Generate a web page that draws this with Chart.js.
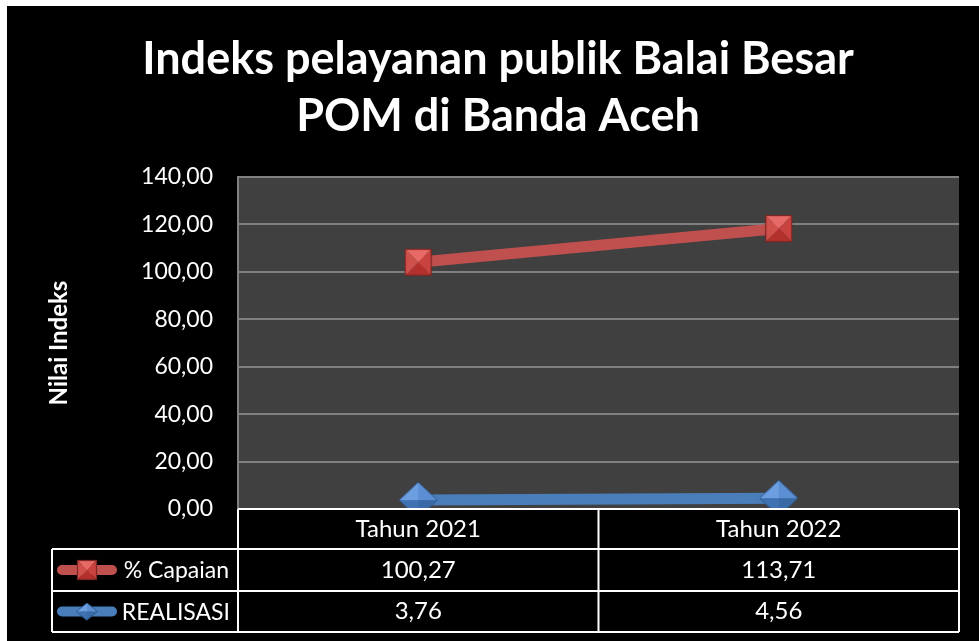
<!DOCTYPE html>
<html>
<head>
<meta charset="utf-8">
<script src="https://cdn.jsdelivr.net/npm/chart.js@4/dist/chart.umd.min.js"></script>
<style>
  html, body { margin: 0; padding: 0; background: #ffffff; }
  #wrap { position: absolute; left: 7px; top: 6px; width: 972px; height: 635px; background: #000; }
  canvas { display: block; }
</style>
</head>
<body>
<div id="wrap"><canvas id="c" width="972" height="635"></canvas></div>
<script>
const titleLines = ['Indeks pelayanan publik Balai Besar', 'POM di Banda Aceh'];
const categories = ['Tahun 2021', 'Tahun 2022'];
const capaianLabel = '% Capaian';
const capaian = [100.27, 113.71];
const realisasiLabel = 'REALISASI';
const realisasi = [3.76, 4.56];
const yAxisTitle = 'Nilai Indeks';
const yMin = 0, yMax = 140, yStep = 20;

const RED = '#C0504D';
const BLUE = '#4A7EBB';
const FONT = 'Lato, "Open Sans", sans-serif';

function fmt(v) { return v.toFixed(2).replace('.', ','); }

function drawSquare(ctx, cx, cy, s) {
  const h = s / 2;
  const x0 = cx - h, y0 = cy - h, x1 = cx + h, y1 = cy + h;
  const tri = (ax, ay, bx, by, col) => {
    ctx.beginPath(); ctx.moveTo(ax, ay); ctx.lineTo(bx, by); ctx.lineTo(cx, cy); ctx.closePath();
    ctx.fillStyle = col; ctx.fill();
  };
  tri(x0, y0, x1, y0, '#e86a67');
  tri(x1, y0, x1, y1, '#c8433f');
  tri(x1, y1, x0, y1, '#b3302d');
  tri(x0, y1, x0, y0, '#d0504c');
  ctx.lineWidth = 1.2; ctx.strokeStyle = '#7e2624';
  ctx.strokeRect(x0 + 0.5, y0 + 0.5, s - 1, s - 1);
}
function drawDiamond(ctx, cx, cy, w, hgt) {
  const a = w / 2, b = hgt / 2;
  const tri = (ax, ay, bx, by, col) => {
    ctx.beginPath(); ctx.moveTo(ax, ay); ctx.lineTo(bx, by); ctx.lineTo(cx, cy); ctx.closePath();
    ctx.fillStyle = col; ctx.fill();
  };
  tri(cx - a, cy, cx, cy - b, '#6c9ee0');
  tri(cx, cy - b, cx + a, cy, '#5b8ed3');
  tri(cx + a, cy, cx, cy + b, '#3a6aa6');
  tri(cx, cy + b, cx - a, cy, '#3f72b2');
  ctx.beginPath(); ctx.moveTo(cx - a, cy); ctx.lineTo(cx, cy - b); ctx.lineTo(cx + a, cy); ctx.lineTo(cx, cy + b); ctx.closePath();
  ctx.lineWidth = 1; ctx.strokeStyle = '#2f5a8e'; ctx.stroke();
}
function makeImg(w, h, fn) {
  const c = document.createElement('canvas');
  c.width = w; c.height = h;
  fn(c.getContext('2d'), w, h);
  return c;
}
const squareImg = makeImg(29, 29, (ctx) => drawSquare(ctx, 14.5, 14.5, 27));
const diamondImg = makeImg(40, 38, (ctx) => drawDiamond(ctx, 20, 19, 38, 36));

const bgPlugin = {
  id: 'bg',
  beforeDraw(chart) {
    const { ctx, chartArea: a } = chart;
    ctx.save();
    ctx.fillStyle = '#000';
    ctx.fillRect(0, 0, chart.width, chart.height);
    ctx.fillStyle = '#404040';
    ctx.fillRect(a.left, a.top, a.right - a.left, a.bottom - a.top);
    ctx.restore();
  },
  afterDraw(chart) {
    const { ctx, chartArea: a } = chart;
    const xs = chart.scales.x;
    ctx.save();
    // title
    ctx.fillStyle = '#fff';
    ctx.font = 'bold 45px ' + FONT;
    ctx.textAlign = 'center';
    ctx.textBaseline = 'alphabetic';
    ctx.fillText(titleLines[0], 491, 68);
    ctx.fillText(titleLines[1], 491, 125);

    // data table
    const colEdges = [a.left];
    for (let i = 0; i < categories.length - 1; i++) {
      colEdges.push((xs.getPixelForValue(i) + xs.getPixelForValue(i + 1)) / 2);
    }
    colEdges.push(a.right);
    const legLeft = 45;
    const rowY = [a.bottom, a.bottom + 40, a.bottom + 82, a.bottom + 123];
    ctx.strokeStyle = '#ffffff';
    ctx.lineWidth = 2;
    ctx.beginPath();
    ctx.moveTo(a.left, rowY[0]); ctx.lineTo(a.right, rowY[0]);
    for (let r = 1; r < rowY.length; r++) { ctx.moveTo(legLeft, rowY[r]); ctx.lineTo(a.right, rowY[r]); }
    ctx.moveTo(legLeft, rowY[1]); ctx.lineTo(legLeft, rowY[3]);
    colEdges.forEach((x) => { ctx.moveTo(x, rowY[0]); ctx.lineTo(x, rowY[3]); });
    ctx.stroke();

    ctx.font = '24px ' + FONT;
    ctx.fillStyle = '#fff';
    ctx.textBaseline = 'middle';
    ctx.textAlign = 'center';
    categories.forEach((c, i) => {
      const cx = xs.getPixelForValue(i);
      ctx.fillText(c, cx, (rowY[0] + rowY[1]) / 2);
      ctx.fillText(fmt(capaian[i]), cx, (rowY[1] + rowY[2]) / 2);
      ctx.fillText(fmt(realisasi[i]), cx, (rowY[2] + rowY[3]) / 2);
    });
    ctx.font = '23px ' + FONT;
    ctx.textAlign = 'right';
    const r1 = (rowY[1] + rowY[2]) / 2, r2 = (rowY[2] + rowY[3]) / 2;
    ctx.fillText(capaianLabel, 222, r1 + 1);
    ctx.fillText(realisasiLabel, 223, r2 + 1);
    // legend keys
    ctx.lineCap = 'round';
    ctx.lineWidth = 10;
    ctx.strokeStyle = RED;
    ctx.beginPath(); ctx.moveTo(55, r1); ctx.lineTo(105, r1); ctx.stroke();
    drawSquare(ctx, 80, r1, 20);
    ctx.lineWidth = 10;
    ctx.strokeStyle = BLUE;
    ctx.beginPath(); ctx.moveTo(55, r2); ctx.lineTo(105, r2); ctx.stroke();
    drawDiamond(ctx, 80, r2, 21, 17);
    ctx.restore();
  }
};

new Chart(document.getElementById('c'), {
  type: 'line',
  data: {
    labels: categories,
    datasets: [
      {
        label: realisasiLabel,
        data: realisasi,
        borderColor: BLUE,
        backgroundColor: BLUE,
        borderWidth: 11,
        pointStyle: diamondImg,
        pointRadius: 19,
        fill: false,
        tension: 0
      },
      {
        label: capaianLabel,
        data: capaian,
        borderColor: RED,
        backgroundColor: RED,
        borderWidth: 11,
        pointStyle: squareImg,
        pointRadius: 19,
        fill: false,
        tension: 0
      }
    ]
  },
  options: {
    responsive: false,
    animation: false,
    devicePixelRatio: 1,
    layout: { autoPadding: false, padding: { left: 0, right: 20, top: 171, bottom: 132 } },
    plugins: {
      legend: { display: false },
      title: { display: false },
      tooltip: { enabled: false }
    },
    scales: {
      x: {
        display: false,
        offset: true
      },
      y: {
        stacked: true,
        min: yMin,
        max: yMax,
        ticks: {
          stepSize: yStep,
          color: '#ffffff',
          font: { family: FONT, size: 23 },
          padding: 25,
          callback: (v) => fmt(v)
        },
        grid: { color: '#808080', lineWidth: 2, drawTicks: false },
        border: { display: true, color: '#808080', width: 2 },
        title: {
          display: true,
          text: yAxisTitle,
          color: '#ffffff',
          font: { family: FONT, size: 24, weight: 'bold' },
          padding: { top: 38, bottom: 0 }
        },
        afterFit: (s) => { s.width = 231; }
      }
    }
  },
  plugins: [bgPlugin]
});
</script>
</body>
</html>
